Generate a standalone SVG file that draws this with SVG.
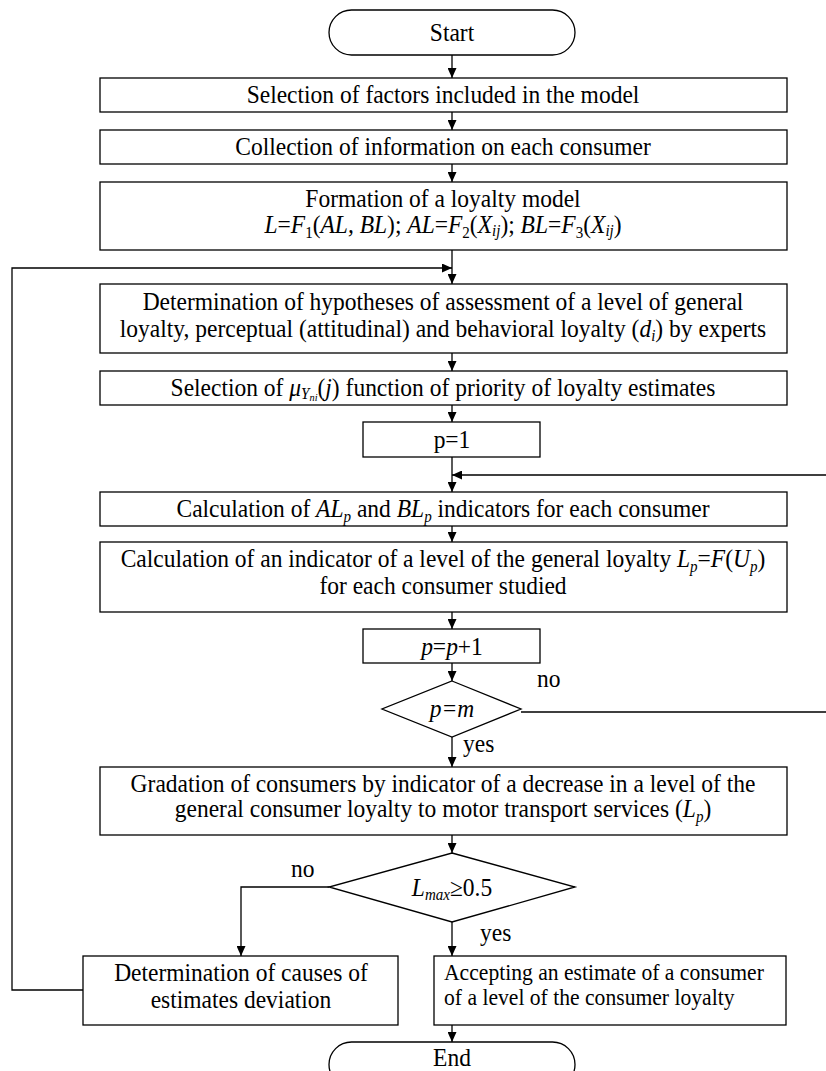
<svg xmlns="http://www.w3.org/2000/svg" width="826" height="1071" viewBox="0 0 826 1071" font-family="'Liberation Serif', 'Times New Roman', serif" font-size="25">
<style>
.b{fill:#fff;stroke:#000;stroke-width:1.3}
.c{fill:none;stroke:#000;stroke-width:1.3}
.a{marker-end:url(#ah)}
text{font-family:'Liberation Serif','Times New Roman',serif;font-size:25px;fill:#000}
.m{text-anchor:middle}
.i{font-style:italic}
.s{font-size:16px}
.sm{font-size:23px}
</style>
<defs>
<marker id="ah" markerUnits="userSpaceOnUse" markerWidth="10" markerHeight="9" refX="10" refY="4.5" orient="auto">
<path d="M0,0 L10,4.5 L0,9 z" fill="#000"/>
</marker>
</defs>
<rect width="826" height="1071" fill="#fff"/>
<g id="connectors">
<path class="c a" d="M452,55 V78"/>
<path class="c a" d="M452,112 V130"/>
<path class="c a" d="M452,164 V182"/>
<path class="c a" d="M452,250 V284"/>
<path class="c a" d="M83,990 H12 V268 H452"/>
<path class="c a" d="M452,353 V371"/>
<path class="c a" d="M452,405 V422"/>
<path class="c a" d="M452,457 V492"/>
<path class="c a" d="M521,712 H828 V475 H452"/>
<path class="c a" d="M452,526 V542"/>
<path class="c a" d="M452,612 V629"/>
<path class="c a" d="M452,663 V681"/>
<path class="c a" d="M452,737 V767"/>
<path class="c a" d="M452,835 V853"/>
<path class="c a" d="M329,887 H241 V956"/>
<path class="c a" d="M452,922 V956"/>
<path class="c a" d="M452,1025 V1042"/>
<text transform="matrix(0.94 0 0 1 537 0)" x="0" y="687">no</text>
<text transform="matrix(0.94 0 0 1 463 0)" x="0" y="752">yes</text>
<text transform="matrix(0.94 0 0 1 291 0)" x="0" y="877">no</text>
<text transform="matrix(0.94 0 0 1 480 0)" x="0" y="941">yes</text>
</g>
<g id="start">
<rect class="b" x="329" y="10" width="246" height="45" rx="22.5"/>
<text class="m" transform="matrix(0.94 0 0 1 452 0)" x="0" y="41">Start</text>
</g>
<g id="selection-factors">
<rect class="b" x="100" y="78" width="687" height="34"/>
<text class="m" transform="matrix(0.94 0 0 1 443 0)" x="0" y="103">Selection of factors included in the model</text>
</g>
<g id="collection">
<rect class="b" x="100" y="130" width="687" height="34"/>
<text class="m" transform="matrix(0.94 0 0 1 443 0)" x="0" y="155">Collection of information on each consumer</text>
</g>
<g id="formation">
<rect class="b" x="100" y="182" width="687" height="68"/>
<text class="m" transform="matrix(0.94 0 0 1 443 0)" x="0" y="207">Formation of a loyalty model</text>
<text class="m" transform="matrix(0.94 0 0 1 443 0)" x="0" y="233"><tspan class="i">L</tspan>=<tspan class="i">F</tspan><tspan class="s" dy="5">1</tspan><tspan dy="-5">(</tspan><tspan class="i">AL, BL</tspan>); <tspan class="i">AL</tspan>=<tspan class="i">F</tspan><tspan class="s" dy="5">2</tspan><tspan dy="-5">(</tspan><tspan class="i">X</tspan><tspan class="i s" dy="3">ij</tspan><tspan dy="-3">); </tspan><tspan class="i">BL</tspan>=<tspan class="i">F</tspan><tspan class="s" dy="5">3</tspan><tspan dy="-5">(</tspan><tspan class="i">X</tspan><tspan class="i s" dy="3">ij</tspan><tspan dy="-3">)</tspan></text>
</g>
<g id="hypotheses">
<rect class="b" x="100" y="284" width="687" height="69"/>
<text class="m" transform="matrix(0.94 0 0 1 443 0)" x="0" y="310">Determination of hypotheses of assessment of a level of general</text>
<text class="m" transform="matrix(0.94 0 0 1 443 0)" x="0" y="337">loyalty, perceptual (attitudinal) and behavioral loyalty (<tspan class="i">d</tspan><tspan class="i s" dy="4">i</tspan><tspan dy="-4">) by experts</tspan></text>
</g>
<g id="selection-mu">
<rect class="b" x="100" y="371" width="687" height="34"/>
<text class="m" transform="matrix(0.94 0 0 1 443 0)" x="0" y="396">Selection of <tspan class="i">μ</tspan><tspan class="i s" dy="3">Y</tspan><tspan class="i" style="font-size:11px" dy="2">ni</tspan><tspan dy="-5">(</tspan><tspan class="i">j</tspan>) function of priority of loyalty estimates</text>
</g>
<g id="p1">
<rect class="b" x="363" y="422" width="177" height="35"/>
<text class="m" transform="matrix(0.94 0 0 1 452 0)" x="0" y="448">p=1</text>
</g>
<g id="calc-al-bl">
<rect class="b" x="100" y="492" width="687" height="34"/>
<text class="m" transform="matrix(0.94 0 0 1 443 0)" x="0" y="517">Calculation of <tspan class="i">AL</tspan><tspan class="i s" dy="5">p</tspan><tspan dy="-5"> and </tspan><tspan class="i">BL</tspan><tspan class="i s" dy="5">p</tspan><tspan dy="-5"> indicators for each consumer</tspan></text>
</g>
<g id="calc-general">
<rect class="b" x="100" y="542" width="687" height="70"/>
<text class="m" transform="matrix(0.94 0 0 1 443 0)" x="0" y="567">Calculation of an indicator of a level of the general loyalty <tspan class="i">L</tspan><tspan class="i s" dy="5">p</tspan><tspan dy="-5">=</tspan><tspan class="i">F</tspan>(<tspan class="i">U</tspan><tspan class="i s" dy="5">p</tspan><tspan dy="-5">)</tspan></text>
<text class="m" transform="matrix(0.94 0 0 1 443 0)" x="0" y="594">for each consumer studied</text>
</g>
<g id="p-inc">
<rect class="b" x="363" y="629" width="177" height="34"/>
<text class="m" transform="matrix(0.94 0 0 1 452 0)" x="0" y="655"><tspan class="i">p</tspan>=<tspan class="i">p</tspan>+1</text>
</g>
<g id="p-eq-m">
<polygon class="b" points="452,681 521,709 452,737 382,709"/>
<text class="m i" transform="matrix(0.94 0 0 1 452 0)" x="0" y="717">p=m</text>
</g>
<g id="gradation">
<rect class="b" x="100" y="767" width="687" height="68"/>
<text class="m" transform="matrix(0.94 0 0 1 443 0)" x="0" y="792">Gradation of consumers by indicator of a decrease in a level of the</text>
<text class="m" transform="matrix(0.94 0 0 1 443 0)" x="0" y="817">general consumer loyalty to motor transport services (<tspan class="i">L</tspan><tspan class="i s" dy="5">p</tspan><tspan dy="-5">)</tspan></text>
</g>
<g id="lmax">
<polygon class="b" points="452,853 575,887 452,922 329,887"/>
<text class="m" transform="matrix(0.94 0 0 1 452 0)" x="0" y="896"><tspan class="i">L</tspan><tspan class="i s" dy="4">max</tspan><tspan dy="-4">≥0.5</tspan></text>
</g>
<g id="causes">
<rect class="b" x="83" y="956" width="315" height="69"/>
<text class="m" transform="matrix(0.94 0 0 1 241 0)" x="0" y="981">Determination of causes of</text>
<text class="m" transform="matrix(0.94 0 0 1 241 0)" x="0" y="1008">estimates deviation</text>
</g>
<g id="accepting">
<rect class="b" x="434" y="956" width="352" height="69"/>
<text class="sm" transform="matrix(0.94 0 0 1 444 0)" x="0" y="980">Accepting an estimate of a consumer</text>
<text class="sm" transform="matrix(0.94 0 0 1 444 0)" x="0" y="1005">of a level of the consumer loyalty</text>
</g>
<g id="end">
<rect class="b" x="329" y="1042" width="246" height="45" rx="22.5"/>
<text class="m" transform="matrix(0.94 0 0 1 452 0)" x="0" y="1066">End</text>
</g>
</svg>
